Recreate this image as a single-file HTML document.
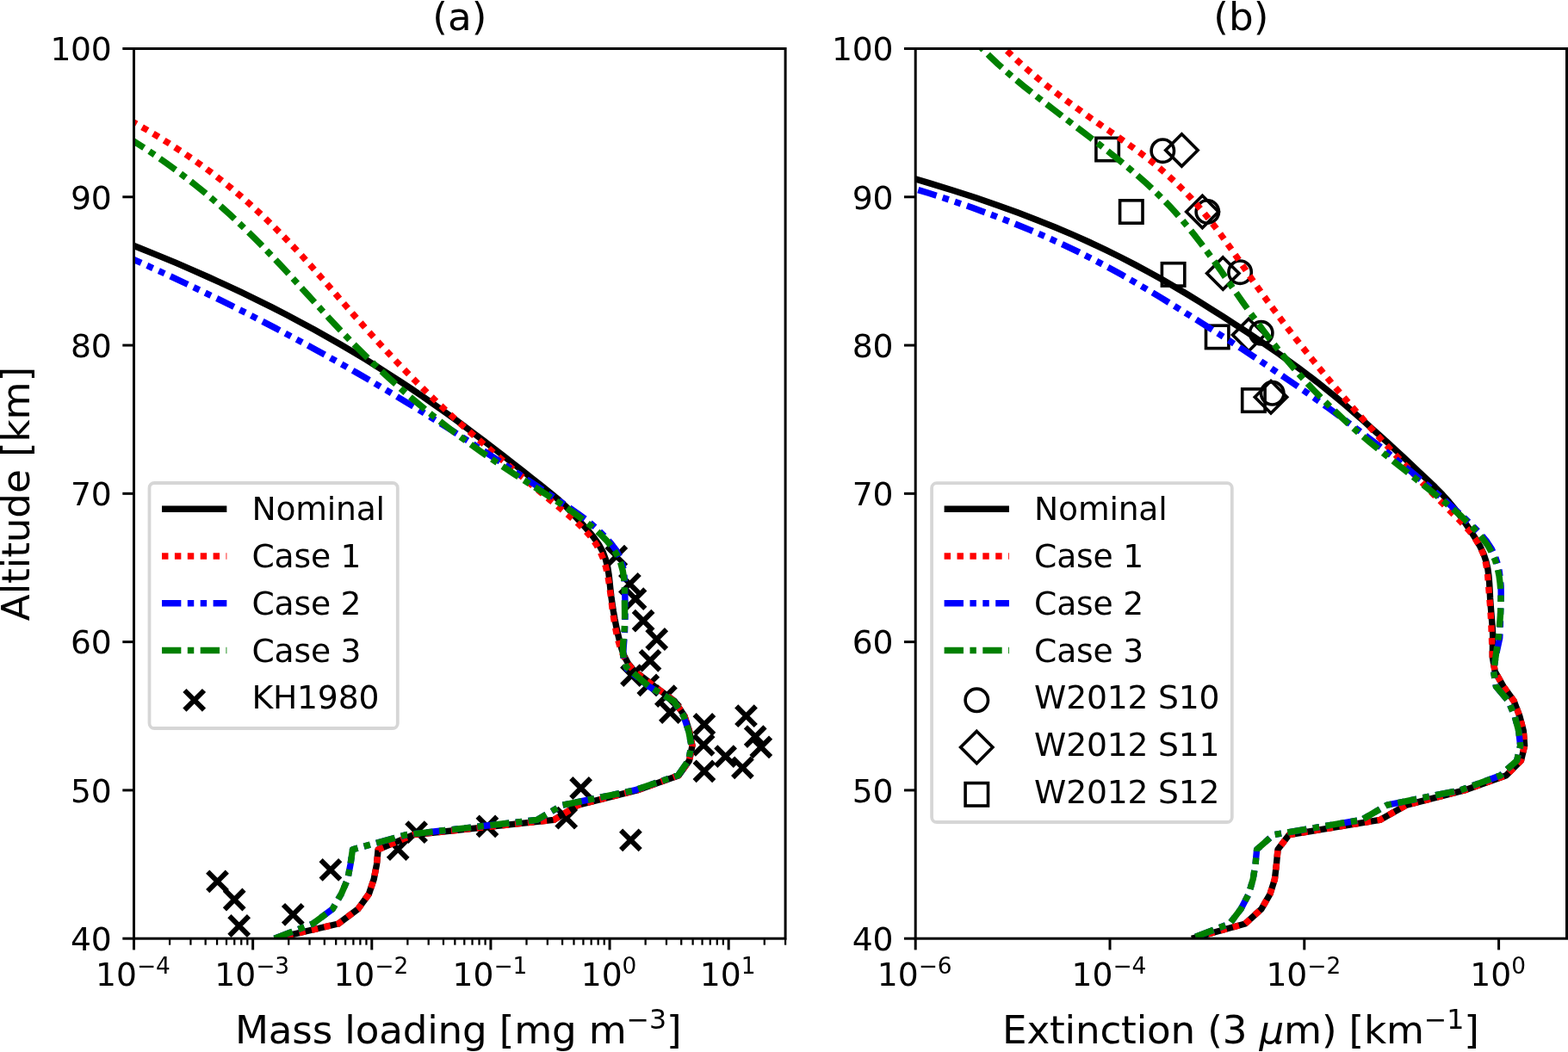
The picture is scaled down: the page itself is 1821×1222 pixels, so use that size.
<!DOCTYPE html>
<html lang="en"><head><meta charset="utf-8"><title>Altitude profiles</title>
<style>html,body{margin:0;padding:0;background:#fff;overflow:hidden}svg{display:block}text{font-family:"DejaVu Sans", "Liberation Sans", sans-serif;fill:#000}</style>
</head><body>
<svg width="1821" height="1222" viewBox="0 0 1821 1222">
<rect width="1821" height="1222" fill="#fff"/>
<defs>
<clipPath id="cl"><rect x="155.50" y="56.50" width="756.60" height="1033.70"/></clipPath>
<clipPath id="cr"><rect x="1063.20" y="56.50" width="756.30" height="1033.70"/></clipPath>
</defs>
<g clip-path="url(#cl)">
<path d="M704.5 634.8L727.1 657.4M704.5 657.4L727.1 634.8" stroke="#000" stroke-width="5.90" fill="none"/>
<path d="M720.1 667.0L742.7 689.6M720.1 689.6L742.7 667.0" stroke="#000" stroke-width="5.90" fill="none"/>
<path d="M726.7 684.3L749.3 706.9M726.7 706.9L749.3 684.3" stroke="#000" stroke-width="5.90" fill="none"/>
<path d="M735.8 709.8L758.4 732.4M735.8 732.4L758.4 709.8" stroke="#000" stroke-width="5.90" fill="none"/>
<path d="M751.4 731.2L774.0 753.8M751.4 753.8L774.0 731.2" stroke="#000" stroke-width="5.90" fill="none"/>
<path d="M743.7 756.0L766.3 778.6M743.7 778.6L766.3 756.0" stroke="#000" stroke-width="5.90" fill="none"/>
<path d="M722.2 773.3L744.8 795.9M722.2 795.9L744.8 773.3" stroke="#000" stroke-width="5.90" fill="none"/>
<path d="M741.5 784.6L764.1 807.2M741.5 807.2L764.1 784.6" stroke="#000" stroke-width="5.90" fill="none"/>
<path d="M762.1 797.3L784.7 819.9M762.1 819.9L784.7 797.3" stroke="#000" stroke-width="5.90" fill="none"/>
<path d="M767.1 816.2L789.7 838.8M767.1 838.8L789.7 816.2" stroke="#000" stroke-width="5.90" fill="none"/>
<path d="M806.6 830.2L829.2 852.8M806.6 852.8L829.2 830.2" stroke="#000" stroke-width="5.90" fill="none"/>
<path d="M855.2 820.4L877.8 843.0M855.2 843.0L877.8 820.4" stroke="#000" stroke-width="5.90" fill="none"/>
<path d="M805.8 854.1L828.4 876.7M805.8 876.7L828.4 854.1" stroke="#000" stroke-width="5.90" fill="none"/>
<path d="M865.9 844.3L888.5 866.9M865.9 866.9L888.5 844.3" stroke="#000" stroke-width="5.90" fill="none"/>
<path d="M872.5 856.6L895.1 879.2M872.5 879.2L895.1 856.6" stroke="#000" stroke-width="5.90" fill="none"/>
<path d="M831.3 867.3L853.9 889.9M831.3 889.9L853.9 867.3" stroke="#000" stroke-width="5.90" fill="none"/>
<path d="M851.1 880.5L873.7 903.1M851.1 903.1L873.7 880.5" stroke="#000" stroke-width="5.90" fill="none"/>
<path d="M806.6 884.6L829.2 907.2M806.6 907.2L829.2 884.6" stroke="#000" stroke-width="5.90" fill="none"/>
<path d="M663.3 904.2L685.9 926.8M663.3 926.8L685.9 904.2" stroke="#000" stroke-width="5.90" fill="none"/>
<path d="M646.4 938.9L669.0 961.5M646.4 961.5L669.0 938.9" stroke="#000" stroke-width="5.90" fill="none"/>
<path d="M721.1 964.6L743.7 987.2M721.1 987.2L743.7 964.6" stroke="#000" stroke-width="5.90" fill="none"/>
<path d="M554.6 948.6L577.2 971.2M554.6 971.2L577.2 948.6" stroke="#000" stroke-width="5.90" fill="none"/>
<path d="M472.3 955.4L494.9 978.0M472.3 978.0L494.9 955.4" stroke="#000" stroke-width="5.90" fill="none"/>
<path d="M450.9 975.2L473.5 997.8M450.9 997.8L473.5 975.2" stroke="#000" stroke-width="5.90" fill="none"/>
<path d="M372.6 999.1L395.2 1021.7M372.6 1021.7L395.2 999.1" stroke="#000" stroke-width="5.90" fill="none"/>
<path d="M329.0 1051.0L351.6 1073.6M329.0 1073.6L351.6 1051.0" stroke="#000" stroke-width="5.90" fill="none"/>
<path d="M241.2 1012.6L263.8 1035.2M241.2 1035.2L263.8 1012.6" stroke="#000" stroke-width="5.90" fill="none"/>
<path d="M260.9 1033.7L283.5 1056.3M260.9 1056.3L283.5 1033.7" stroke="#000" stroke-width="5.90" fill="none"/>
<path d="M266.4 1064.2L289.0 1086.8M266.4 1086.8L289.0 1064.2" stroke="#000" stroke-width="5.90" fill="none"/>
<path d="M140.0 279.4 L161.9 288.0 L183.2 296.6 L203.9 305.2 L223.9 313.9 L243.4 322.5 L262.3 331.1 L280.6 339.7 L298.4 348.3 L315.7 356.9 L332.5 365.5 L348.8 374.2 L364.7 382.8 L380.2 391.4 L395.2 400.0 L409.8 408.6 L424.1 417.2 L438.0 425.8 L451.5 434.5 L464.8 443.1 L477.7 451.7 L490.4 460.3 L502.8 468.9 L515.0 477.5 L527.0 486.1 L538.8 494.8 L550.3 503.4 L561.8 512.0 L573.1 520.6 L584.2 529.2 L595.3 537.8 L606.3 546.4 L617.2 555.1 L628.1 563.7 L638.9 572.3 L649.2 580.9 L658.4 589.5 L666.5 598.1 L674.4 606.7 L682.2 615.4 L689.4 624.0 L695.5 632.6 L700.2 641.2 L703.4 649.8 L705.6 658.4 L707.0 667.0 L708.0 675.7 L708.9 684.3 L709.9 692.9 L711.1 701.5 L712.4 710.1 L713.9 718.7 L715.6 727.3 L717.5 736.0 L719.6 744.6 L721.8 753.2 L724.8 761.8 L729.3 770.4 L736.3 779.0 L760.0 797.3 L783.5 814.5 L795.0 831.8 L800.5 849.0 L804.0 866.2 L800.5 883.5 L788.3 900.7 L740.0 917.9 L671.3 935.1 L643.3 952.4 L480.3 969.6 L439.1 986.8 L437.5 1004.1 L434.2 1021.3 L428.4 1038.5 L416.0 1055.7 L393.0 1073.0 L319.5 1090.2" fill="none" stroke="#000" stroke-width="7.40" stroke-linejoin="round"/>
<path d="M138.4 132.9 L154.2 141.5 L169.3 150.1 L183.8 158.7 L197.6 167.4 L210.8 176.0 L223.5 184.6 L235.7 193.2 L247.3 201.8 L258.4 210.4 L269.1 219.0 L279.4 227.7 L289.3 236.3 L298.8 244.9 L308.0 253.5 L316.9 262.1 L325.5 270.7 L333.9 279.3 L342.1 288.0 L350.1 296.6 L357.9 305.2 L365.6 313.8 L373.1 322.4 L380.7 331.0 L388.1 339.6 L395.6 348.3 L403.1 356.9 L410.6 365.5 L418.2 374.1 L425.9 382.7 L433.7 391.3 L441.6 399.9 L449.6 408.6 L457.7 417.2 L466.0 425.8 L474.4 434.4 L482.9 443.0 L491.6 451.6 L500.4 460.2 L509.5 468.9 L518.7 477.5 L528.0 486.1 L537.6 494.7 L547.3 503.3 L557.2 511.9 L567.2 520.5 L577.2 529.2 L587.3 537.8 L597.5 546.4 L607.7 555.0 L617.9 563.6 L628.3 572.2 L638.8 580.8 L649.4 589.5 L659.9 598.1 L669.9 606.7 L678.8 615.3 L686.4 623.9 L692.5 632.5 L697.2 641.1 L700.8 649.7 L703.5 658.4 L705.5 667.0 L707.0 675.6 L708.2 684.2 L709.4 692.8 L710.4 701.4 L711.5 710.0 L712.8 718.7 L714.2 727.3 L716.0 735.9 L718.0 744.5 L720.6 753.1 L723.9 761.7 L728.8 770.3 L735.8 779.0 L760.0 797.3 L783.5 814.5 L795.0 831.8 L800.5 849.0 L804.0 866.2 L800.5 883.5 L788.3 900.7 L740.0 917.9 L671.3 935.1 L643.3 952.4 L480.3 969.6 L439.1 986.8 L437.5 1004.1 L434.2 1021.3 L428.4 1038.5 L416.0 1055.7 L393.0 1073.0 L319.5 1090.2" fill="none" stroke="#f00" stroke-width="7.40" stroke-linejoin="round" stroke-dasharray="7.45 7.45" stroke-dashoffset="-0.70"/>
<path d="M140.7 295.0 L160.1 303.6 L179.1 312.2 L197.8 320.8 L216.2 329.5 L234.2 338.1 L251.9 346.7 L269.4 355.3 L286.5 363.9 L303.3 372.5 L319.9 381.1 L336.2 389.8 L352.2 398.4 L368.0 407.0 L383.6 415.6 L398.9 424.2 L413.9 432.8 L428.8 441.4 L443.4 450.1 L457.9 458.7 L472.1 467.3 L486.2 475.9 L500.1 484.5 L513.8 493.1 L527.4 501.7 L540.9 510.4 L554.3 519.0 L567.5 527.6 L580.7 536.2 L593.7 544.8 L606.7 553.4 L619.7 562.0 L632.6 570.7 L645.5 579.3 L658.4 587.9 L670.9 596.5 L682.5 605.1 L692.7 613.7 L701.5 622.3 L709.4 631.0 L715.9 639.6 L720.4 648.2 L723.2 656.8 L724.7 665.4 L725.4 674.0 L725.6 682.6 L725.8 691.3 L726.0 699.9 L726.0 708.5 L726.0 717.1 L725.8 725.7 L725.5 734.3 L724.9 742.9 L724.2 751.6 L723.7 760.2 L724.7 768.8 L728.5 777.4 L753.5 797.3 L782.5 814.5 L794.0 831.8 L799.7 849.0 L803.0 866.2 L799.5 883.5 L787.5 900.7 L737.0 917.9 L653.2 935.1 L623.6 952.4 L472.0 969.6 L409.5 986.8 L407.0 1004.1 L403.7 1021.3 L396.3 1038.5 L386.4 1055.7 L363.3 1073.0 L318.8 1090.2" fill="none" stroke="#00f" stroke-width="7.40" stroke-linejoin="round" stroke-dasharray="22.35 7.45 7.45 7.45 7.45 7.45" stroke-dashoffset="-3.20"/>
<path d="M139.9 154.5 L153.9 163.1 L167.3 171.7 L180.2 180.3 L192.5 189.0 L204.4 197.6 L215.8 206.2 L226.8 214.8 L237.4 223.4 L247.6 232.0 L257.5 240.6 L267.1 249.3 L276.3 257.9 L285.3 266.5 L294.1 275.1 L302.6 283.7 L311.0 292.3 L319.2 300.9 L327.3 309.6 L335.3 318.2 L343.2 326.8 L351.0 335.4 L358.9 344.0 L366.7 352.6 L374.6 361.2 L382.5 369.9 L390.5 378.5 L398.7 387.1 L406.9 395.7 L415.4 404.3 L424.0 412.9 L432.8 421.5 L441.9 430.2 L451.2 438.8 L460.8 447.4 L470.5 456.0 L480.6 464.6 L490.9 473.2 L501.5 481.8 L512.4 490.5 L523.6 499.1 L535.1 507.7 L546.9 516.3 L559.0 524.9 L571.5 533.5 L584.3 542.1 L597.5 550.8 L610.9 559.4 L624.5 568.0 L637.9 576.6 L651.1 585.2 L663.7 593.8 L675.6 602.4 L686.6 611.1 L696.4 619.7 L704.9 628.3 L711.9 636.9 L717.1 645.5 L720.8 654.1 L723.2 662.7 L724.6 671.3 L725.3 680.0 L725.4 688.6 L725.4 697.2 L725.5 705.8 L725.6 714.4 L725.5 723.0 L725.1 731.6 L724.3 740.3 L723.6 748.9 L723.4 757.5 L724.4 766.1 L727.3 774.7 L753.5 797.3 L782.5 814.5 L794.0 831.8 L799.7 849.0 L803.0 866.2 L799.5 883.5 L787.5 900.7 L737.0 917.9 L653.2 935.1 L623.6 952.4 L472.0 969.6 L409.5 986.8 L407.0 1004.1 L403.7 1021.3 L396.3 1038.5 L386.4 1055.7 L363.3 1073.0 L318.8 1090.2" fill="none" stroke="#008000" stroke-width="7.40" stroke-linejoin="round" stroke-dasharray="22.35 7.45 7.45 7.45" stroke-dashoffset="-9.90"/>
</g>
<g clip-path="url(#cr)">
<circle cx="1350.3" cy="175.2" r="13.20" stroke="#000" stroke-width="3.60" fill="none"/>
<circle cx="1402.3" cy="246.0" r="13.20" stroke="#000" stroke-width="3.60" fill="none"/>
<circle cx="1440.1" cy="316.2" r="13.20" stroke="#000" stroke-width="3.60" fill="none"/>
<circle cx="1464.7" cy="386.8" r="13.20" stroke="#000" stroke-width="3.60" fill="none"/>
<circle cx="1477.7" cy="456.8" r="13.20" stroke="#000" stroke-width="3.60" fill="none"/>
<path d="M1372.4 155.7L1391.1 174.4L1372.4 193.1L1353.7 174.4Z" stroke="#000" stroke-width="3.60" fill="none" stroke-linejoin="miter"/>
<path d="M1396.4 227.3L1415.1 246.0L1396.4 264.7L1377.7 246.0Z" stroke="#000" stroke-width="3.60" fill="none" stroke-linejoin="miter"/>
<path d="M1420.3 298.9L1439.0 317.6L1420.3 336.3L1401.6 317.6Z" stroke="#000" stroke-width="3.60" fill="none" stroke-linejoin="miter"/>
<path d="M1450.2 370.4L1468.9 389.1L1450.2 407.8L1431.5 389.1Z" stroke="#000" stroke-width="3.60" fill="none" stroke-linejoin="miter"/>
<path d="M1476.0 442.6L1494.7 461.3L1476.0 480.0L1457.3 461.3Z" stroke="#000" stroke-width="3.60" fill="none" stroke-linejoin="miter"/>
<rect x="1272.9" y="160.3" width="26.40" height="26.40" stroke="#000" stroke-width="3.60" fill="none"/>
<rect x="1300.6" y="232.8" width="26.40" height="26.40" stroke="#000" stroke-width="3.60" fill="none"/>
<rect x="1349.4" y="305.7" width="26.40" height="26.40" stroke="#000" stroke-width="3.60" fill="none"/>
<rect x="1400.5" y="378.2" width="26.40" height="26.40" stroke="#000" stroke-width="3.60" fill="none"/>
<rect x="1442.7" y="451.9" width="26.40" height="26.40" stroke="#000" stroke-width="3.60" fill="none"/>
<path d="M1049.4 204.0 L1078.9 212.6 L1106.9 221.2 L1133.4 229.8 L1158.5 238.5 L1182.2 247.1 L1204.7 255.7 L1226.0 264.3 L1246.3 272.9 L1265.5 281.5 L1283.8 290.1 L1301.3 298.8 L1318.0 307.4 L1334.0 316.0 L1349.4 324.6 L1364.3 333.2 L1378.7 341.8 L1392.8 350.4 L1406.6 359.1 L1420.2 367.7 L1433.6 376.3 L1446.8 384.9 L1459.7 393.5 L1472.4 402.1 L1484.9 410.7 L1497.0 419.4 L1508.8 428.0 L1520.3 436.6 L1531.4 445.2 L1542.2 453.8 L1552.7 462.4 L1562.9 471.0 L1572.9 479.7 L1582.8 488.3 L1592.4 496.9 L1602.0 505.5 L1611.4 514.1 L1620.8 522.7 L1630.1 531.3 L1639.3 540.0 L1648.5 548.6 L1657.6 557.2 L1666.6 565.8 L1675.1 574.4 L1682.9 583.0 L1690.0 591.6 L1696.5 600.3 L1702.6 608.9 L1708.4 617.5 L1713.9 626.1 L1718.9 634.7 L1723.0 643.3 L1725.8 651.9 L1727.8 660.6 L1729.0 669.2 L1729.7 677.8 L1730.2 686.4 L1730.6 695.0 L1731.2 703.6 L1731.9 712.2 L1732.6 720.8 L1733.3 729.5 L1733.7 738.1 L1733.3 762.9 L1736.2 780.1 L1746.0 797.3 L1758.3 814.5 L1764.8 831.8 L1769.3 849.0 L1770.6 866.2 L1766.5 883.5 L1749.3 900.7 L1700.8 917.9 L1633.5 935.1 L1602.6 952.4 L1497.2 969.6 L1484.0 986.8 L1482.4 1004.1 L1480.4 1021.3 L1475.0 1038.5 L1465.1 1055.7 L1446.1 1073.0 L1384.0 1090.2" fill="none" stroke="#000" stroke-width="7.40" stroke-linejoin="round"/>
<path d="M1151.1 40.0 L1159.1 48.6 L1167.6 57.2 L1176.6 65.8 L1186.0 74.5 L1195.9 83.1 L1206.1 91.7 L1216.8 100.3 L1227.9 108.9 L1239.4 117.5 L1251.2 126.1 L1263.3 134.8 L1275.7 143.4 L1288.2 152.0 L1300.6 160.6 L1312.7 169.2 L1324.5 177.8 L1335.8 186.4 L1346.4 195.1 L1356.4 203.7 L1365.7 212.3 L1374.4 220.9 L1382.7 229.5 L1390.4 238.1 L1397.8 246.7 L1404.8 255.4 L1411.5 264.0 L1417.9 272.6 L1424.1 281.2 L1430.2 289.8 L1436.2 298.4 L1442.1 307.0 L1448.0 315.7 L1453.9 324.3 L1459.9 332.9 L1466.1 341.5 L1472.3 350.1 L1478.6 358.7 L1485.0 367.3 L1491.5 376.0 L1498.0 384.6 L1504.7 393.2 L1511.5 401.8 L1518.3 410.4 L1525.2 419.0 L1532.2 427.6 L1539.3 436.3 L1546.5 444.9 L1553.8 453.5 L1561.2 462.1 L1568.6 470.7 L1576.1 479.3 L1583.8 487.9 L1591.5 496.6 L1599.3 505.2 L1607.1 513.8 L1615.1 522.4 L1623.1 531.0 L1631.3 539.6 L1639.5 548.2 L1647.8 556.9 L1656.2 565.5 L1664.6 574.1 L1673.2 582.7 L1681.8 591.3 L1690.5 599.9 L1699.0 608.5 L1706.7 617.1 L1713.3 625.8 L1718.5 634.4 L1722.4 643.0 L1725.0 651.6 L1726.7 660.2 L1727.7 668.8 L1728.4 677.4 L1729.1 686.1 L1729.8 694.7 L1730.5 703.3 L1731.1 711.9 L1731.6 720.5 L1732.0 729.1 L1732.3 737.7 L1733.3 762.9 L1736.2 780.1 L1746.0 797.3 L1758.3 814.5 L1764.8 831.8 L1769.3 849.0 L1770.6 866.2 L1766.5 883.5 L1749.3 900.7 L1700.8 917.9 L1633.5 935.1 L1602.6 952.4 L1497.2 969.6 L1484.0 986.8 L1482.4 1004.1 L1480.4 1021.3 L1475.0 1038.5 L1465.1 1055.7 L1446.1 1073.0 L1384.0 1090.2" fill="none" stroke="#f00" stroke-width="7.40" stroke-linejoin="round" stroke-dasharray="7.45 7.45" stroke-dashoffset="3.30"/>
<path d="M1050.3 215.7 L1078.4 224.3 L1104.9 232.9 L1129.9 241.5 L1153.5 250.2 L1175.8 258.8 L1196.8 267.4 L1216.7 276.0 L1235.6 284.6 L1253.5 293.2 L1270.6 301.8 L1286.9 310.5 L1302.6 319.1 L1317.7 327.7 L1332.4 336.3 L1346.8 344.9 L1360.8 353.5 L1374.7 362.1 L1388.5 370.8 L1402.1 379.4 L1415.6 388.0 L1429.0 396.6 L1442.3 405.2 L1455.4 413.8 L1468.3 422.4 L1481.1 431.1 L1493.8 439.7 L1506.3 448.3 L1518.7 456.9 L1530.9 465.5 L1542.9 474.1 L1554.8 482.7 L1566.5 491.4 L1578.0 500.0 L1589.4 508.6 L1600.6 517.2 L1611.6 525.8 L1622.4 534.4 L1633.0 543.0 L1643.4 551.7 L1653.7 560.3 L1663.8 568.9 L1673.7 577.5 L1683.4 586.1 L1693.0 594.7 L1702.3 603.3 L1711.4 612.0 L1719.7 620.6 L1726.8 629.2 L1732.4 637.8 L1736.4 646.4 L1739.3 655.0 L1741.2 663.6 L1742.4 672.3 L1743.1 680.9 L1743.2 689.5 L1743.1 698.1 L1742.8 706.7 L1742.5 715.3 L1742.4 723.9 L1742.2 732.5 L1741.7 741.2 L1737.0 762.9 L1734.6 780.1 L1737.4 797.3 L1751.8 814.5 L1759.1 831.8 L1763.7 849.0 L1765.7 866.2 L1761.6 883.5 L1742.7 900.7 L1695.9 917.9 L1610.9 935.1 L1581.2 952.4 L1479.0 969.6 L1459.6 986.8 L1458.0 1004.1 L1455.2 1021.3 L1450.2 1038.5 L1441.2 1055.7 L1428.0 1073.0 L1383.5 1090.2" fill="none" stroke="#00f" stroke-width="7.40" stroke-linejoin="round" stroke-dasharray="22.35 7.45 7.45 7.45 7.45 7.45" stroke-dashoffset="-16.70"/>
<path d="M1126.1 40.0 L1133.4 48.6 L1141.3 57.2 L1149.9 65.8 L1159.1 74.5 L1168.7 83.1 L1178.8 91.7 L1189.2 100.3 L1200.0 108.9 L1210.9 117.5 L1222.1 126.1 L1233.4 134.8 L1244.7 143.4 L1256.0 152.0 L1267.3 160.6 L1278.4 169.2 L1289.4 177.8 L1300.2 186.4 L1310.7 195.1 L1320.8 203.7 L1330.6 212.3 L1339.9 220.9 L1348.7 229.5 L1357.1 238.1 L1365.1 246.7 L1372.7 255.4 L1379.9 264.0 L1386.9 272.6 L1393.6 281.2 L1400.1 289.8 L1406.4 298.4 L1412.6 307.0 L1418.7 315.7 L1424.6 324.3 L1430.6 332.9 L1436.6 341.5 L1442.6 350.1 L1448.7 358.7 L1454.9 367.3 L1461.3 376.0 L1467.7 384.6 L1474.3 393.2 L1481.1 401.8 L1488.0 410.4 L1495.2 419.0 L1502.5 427.6 L1510.1 436.3 L1517.9 444.9 L1526.0 453.5 L1534.4 462.1 L1543.0 470.7 L1552.0 479.3 L1561.2 487.9 L1570.8 496.6 L1580.8 505.2 L1591.1 513.8 L1601.6 522.4 L1612.3 531.0 L1623.2 539.6 L1634.1 548.2 L1645.0 556.9 L1655.9 565.5 L1666.6 574.1 L1677.2 582.7 L1687.4 591.3 L1697.3 599.9 L1706.5 608.5 L1714.9 617.1 L1722.2 625.8 L1728.3 634.4 L1733.1 643.0 L1736.7 651.6 L1739.2 660.2 L1741.0 668.8 L1742.1 677.4 L1742.8 686.1 L1743.0 694.7 L1742.9 703.3 L1742.6 711.9 L1742.0 720.5 L1741.3 729.1 L1740.6 737.7 L1737.0 762.9 L1734.6 780.1 L1737.4 797.3 L1751.8 814.5 L1759.1 831.8 L1763.7 849.0 L1765.7 866.2 L1761.6 883.5 L1742.7 900.7 L1695.9 917.9 L1610.9 935.1 L1581.2 952.4 L1479.0 969.6 L1459.6 986.8 L1458.0 1004.1 L1455.2 1021.3 L1450.2 1038.5 L1441.2 1055.7 L1428.0 1073.0 L1383.5 1090.2" fill="none" stroke="#008000" stroke-width="7.40" stroke-linejoin="round" stroke-dasharray="22.35 7.45 7.45 7.45" stroke-dashoffset="13.20"/>
</g>
<path d="M155.50 1090.20H142.30" stroke="#000" stroke-width="3.00"/>
<text x="129.5" y="1104.0" font-size="37.67" text-anchor="end" letter-spacing="-0.25">40</text>
<path d="M155.50 917.92H142.30" stroke="#000" stroke-width="3.00"/>
<text x="129.5" y="931.7" font-size="37.67" text-anchor="end" letter-spacing="-0.25">50</text>
<path d="M155.50 745.63H142.30" stroke="#000" stroke-width="3.00"/>
<text x="129.5" y="759.4" font-size="37.67" text-anchor="end" letter-spacing="-0.25">60</text>
<path d="M155.50 573.35H142.30" stroke="#000" stroke-width="3.00"/>
<text x="129.5" y="587.1" font-size="37.67" text-anchor="end" letter-spacing="-0.25">70</text>
<path d="M155.50 401.07H142.30" stroke="#000" stroke-width="3.00"/>
<text x="129.5" y="414.9" font-size="37.67" text-anchor="end" letter-spacing="-0.25">80</text>
<path d="M155.50 228.78H142.30" stroke="#000" stroke-width="3.00"/>
<text x="129.5" y="242.6" font-size="37.67" text-anchor="end" letter-spacing="-0.25">90</text>
<path d="M155.50 56.50H142.30" stroke="#000" stroke-width="3.00"/>
<text x="129.5" y="70.3" font-size="37.67" text-anchor="end" letter-spacing="-0.25">100</text>
<path d="M155.50 1090.20V1103.40" stroke="#000" stroke-width="3.00"/>
<text x="111.1" y="1145.4" font-size="37.67">10</text>
<text x="159.0" y="1131.4" font-size="26.37">−4</text>
<path d="M293.64 1090.20V1103.40" stroke="#000" stroke-width="3.00"/>
<text x="249.2" y="1145.4" font-size="37.67">10</text>
<text x="297.2" y="1131.4" font-size="26.37">−3</text>
<path d="M431.78 1090.20V1103.40" stroke="#000" stroke-width="3.00"/>
<text x="387.4" y="1145.4" font-size="37.67">10</text>
<text x="435.3" y="1131.4" font-size="26.37">−2</text>
<path d="M569.91 1090.20V1103.40" stroke="#000" stroke-width="3.00"/>
<text x="525.5" y="1145.4" font-size="37.67">10</text>
<text x="573.4" y="1131.4" font-size="26.37">−1</text>
<path d="M708.05 1090.20V1103.40" stroke="#000" stroke-width="3.00"/>
<text x="674.7" y="1145.4" font-size="37.67">10</text>
<text x="722.6" y="1131.4" font-size="26.37">0</text>
<path d="M846.19 1090.20V1103.40" stroke="#000" stroke-width="3.00"/>
<text x="812.8" y="1145.4" font-size="37.67">10</text>
<text x="860.8" y="1131.4" font-size="26.37">1</text>
<path d="M197.08 1090.20V1097.70" stroke="#000" stroke-width="2.26"/>
<path d="M221.41 1090.20V1097.70" stroke="#000" stroke-width="2.26"/>
<path d="M238.67 1090.20V1097.70" stroke="#000" stroke-width="2.26"/>
<path d="M252.05 1090.20V1097.70" stroke="#000" stroke-width="2.26"/>
<path d="M262.99 1090.20V1097.70" stroke="#000" stroke-width="2.26"/>
<path d="M272.24 1090.20V1097.70" stroke="#000" stroke-width="2.26"/>
<path d="M280.25 1090.20V1097.70" stroke="#000" stroke-width="2.26"/>
<path d="M287.32 1090.20V1097.70" stroke="#000" stroke-width="2.26"/>
<path d="M335.22 1090.20V1097.70" stroke="#000" stroke-width="2.26"/>
<path d="M359.55 1090.20V1097.70" stroke="#000" stroke-width="2.26"/>
<path d="M376.81 1090.20V1097.70" stroke="#000" stroke-width="2.26"/>
<path d="M390.19 1090.20V1097.70" stroke="#000" stroke-width="2.26"/>
<path d="M401.13 1090.20V1097.70" stroke="#000" stroke-width="2.26"/>
<path d="M410.38 1090.20V1097.70" stroke="#000" stroke-width="2.26"/>
<path d="M418.39 1090.20V1097.70" stroke="#000" stroke-width="2.26"/>
<path d="M425.46 1090.20V1097.70" stroke="#000" stroke-width="2.26"/>
<path d="M473.36 1090.20V1097.70" stroke="#000" stroke-width="2.26"/>
<path d="M497.69 1090.20V1097.70" stroke="#000" stroke-width="2.26"/>
<path d="M514.94 1090.20V1097.70" stroke="#000" stroke-width="2.26"/>
<path d="M528.33 1090.20V1097.70" stroke="#000" stroke-width="2.26"/>
<path d="M539.27 1090.20V1097.70" stroke="#000" stroke-width="2.26"/>
<path d="M548.52 1090.20V1097.70" stroke="#000" stroke-width="2.26"/>
<path d="M556.53 1090.20V1097.70" stroke="#000" stroke-width="2.26"/>
<path d="M563.59 1090.20V1097.70" stroke="#000" stroke-width="2.26"/>
<path d="M611.50 1090.20V1097.70" stroke="#000" stroke-width="2.26"/>
<path d="M635.82 1090.20V1097.70" stroke="#000" stroke-width="2.26"/>
<path d="M653.08 1090.20V1097.70" stroke="#000" stroke-width="2.26"/>
<path d="M666.47 1090.20V1097.70" stroke="#000" stroke-width="2.26"/>
<path d="M677.41 1090.20V1097.70" stroke="#000" stroke-width="2.26"/>
<path d="M686.66 1090.20V1097.70" stroke="#000" stroke-width="2.26"/>
<path d="M694.67 1090.20V1097.70" stroke="#000" stroke-width="2.26"/>
<path d="M701.73 1090.20V1097.70" stroke="#000" stroke-width="2.26"/>
<path d="M749.64 1090.20V1097.70" stroke="#000" stroke-width="2.26"/>
<path d="M773.96 1090.20V1097.70" stroke="#000" stroke-width="2.26"/>
<path d="M791.22 1090.20V1097.70" stroke="#000" stroke-width="2.26"/>
<path d="M804.61 1090.20V1097.70" stroke="#000" stroke-width="2.26"/>
<path d="M815.55 1090.20V1097.70" stroke="#000" stroke-width="2.26"/>
<path d="M824.79 1090.20V1097.70" stroke="#000" stroke-width="2.26"/>
<path d="M832.80 1090.20V1097.70" stroke="#000" stroke-width="2.26"/>
<path d="M839.87 1090.20V1097.70" stroke="#000" stroke-width="2.26"/>
<path d="M887.78 1090.20V1097.70" stroke="#000" stroke-width="2.26"/>
<path d="M912.10 1090.20V1097.70" stroke="#000" stroke-width="2.26"/>
<rect x="155.50" y="56.50" width="756.60" height="1033.70" fill="none" stroke="#000" stroke-width="3.00"/>
<path d="M1063.20 1090.20H1050.00" stroke="#000" stroke-width="3.00"/>
<text x="1037.2" y="1104.0" font-size="37.67" text-anchor="end" letter-spacing="-0.25">40</text>
<path d="M1063.20 917.92H1050.00" stroke="#000" stroke-width="3.00"/>
<text x="1037.2" y="931.7" font-size="37.67" text-anchor="end" letter-spacing="-0.25">50</text>
<path d="M1063.20 745.63H1050.00" stroke="#000" stroke-width="3.00"/>
<text x="1037.2" y="759.4" font-size="37.67" text-anchor="end" letter-spacing="-0.25">60</text>
<path d="M1063.20 573.35H1050.00" stroke="#000" stroke-width="3.00"/>
<text x="1037.2" y="587.1" font-size="37.67" text-anchor="end" letter-spacing="-0.25">70</text>
<path d="M1063.20 401.07H1050.00" stroke="#000" stroke-width="3.00"/>
<text x="1037.2" y="414.9" font-size="37.67" text-anchor="end" letter-spacing="-0.25">80</text>
<path d="M1063.20 228.78H1050.00" stroke="#000" stroke-width="3.00"/>
<text x="1037.2" y="242.6" font-size="37.67" text-anchor="end" letter-spacing="-0.25">90</text>
<path d="M1063.20 56.50H1050.00" stroke="#000" stroke-width="3.00"/>
<text x="1037.2" y="70.3" font-size="37.67" text-anchor="end" letter-spacing="-0.25">100</text>
<path d="M1063.20 1090.20V1103.40" stroke="#000" stroke-width="3.00"/>
<text x="1018.8" y="1145.4" font-size="37.67">10</text>
<text x="1066.7" y="1131.4" font-size="26.37">−6</text>
<path d="M1289.00 1090.20V1103.40" stroke="#000" stroke-width="3.00"/>
<text x="1244.6" y="1145.4" font-size="37.67">10</text>
<text x="1292.5" y="1131.4" font-size="26.37">−4</text>
<path d="M1514.79 1090.20V1103.40" stroke="#000" stroke-width="3.00"/>
<text x="1470.4" y="1145.4" font-size="37.67">10</text>
<text x="1518.3" y="1131.4" font-size="26.37">−2</text>
<path d="M1740.59 1090.20V1103.40" stroke="#000" stroke-width="3.00"/>
<text x="1707.2" y="1145.4" font-size="37.67">10</text>
<text x="1755.2" y="1131.4" font-size="26.37">0</text>
<rect x="1063.20" y="56.50" width="756.30" height="1033.70" fill="none" stroke="#000" stroke-width="3.00"/>
<text x="533.8" y="34.5" font-size="45.20" text-anchor="middle">(a)</text>
<text x="1441.3" y="34.5" font-size="45.20" text-anchor="middle">(b)</text>
<text transform="translate(34.4 573.6) rotate(-90)" font-size="45.20" text-anchor="middle" letter-spacing="-0.10">Altitude [km]</text>
<text letter-spacing="-0.17" x="273.0" y="1212.3" font-size="45.20">Mass loading [mg m<tspan font-size="31.64" dy="-17.2">−3</tspan><tspan dy="17.2">]</tspan></text>
<text letter-spacing="-0.17" x="1164.1" y="1212.3" font-size="45.20">Extinction (3 <tspan font-style="italic">μ</tspan>m) [km<tspan font-size="31.64" dy="-17.2">−1</tspan><tspan dy="17.2">]</tspan></text>
<rect x="173.50" y="561.00" width="288.30" height="285.00" rx="5.8" ry="5.8" fill="#fff" fill-opacity="0.8" stroke="#ccc" stroke-opacity="0.8" stroke-width="3.77"/>
<path d="M188.00 591.20H263.34" stroke="#000" stroke-width="7.40"/>
<text letter-spacing="-0.20" x="292.5" y="604.2" font-size="37.67">Nominal</text>
<path d="M188.00 645.95H263.34" stroke="#f00" stroke-width="7.40" stroke-dasharray="7.45 7.45"/>
<text letter-spacing="-0.20" x="292.5" y="659.0" font-size="37.67">Case 1</text>
<path d="M188.00 700.70H263.34" stroke="#00f" stroke-width="7.40" stroke-dasharray="22.35 7.45 7.45 7.45 7.45 7.45"/>
<text letter-spacing="-0.20" x="292.5" y="713.7" font-size="37.67">Case 2</text>
<path d="M188.00 755.45H263.34" stroke="#008000" stroke-width="7.40" stroke-dasharray="22.35 7.45 7.45 7.45"/>
<text letter-spacing="-0.20" x="292.5" y="768.5" font-size="37.67">Case 3</text>
<path d="M214.4 802.0L237.0 824.6M214.4 824.6L237.0 802.0" stroke="#000" stroke-width="5.90" fill="none"/>
<text letter-spacing="-0.20" x="292.5" y="823.2" font-size="37.67">KH1980</text>
<rect x="1082.10" y="561.10" width="348.70" height="393.90" rx="5.8" ry="5.8" fill="#fff" fill-opacity="0.8" stroke="#ccc" stroke-opacity="0.8" stroke-width="3.77"/>
<path d="M1096.60 591.20H1171.94" stroke="#000" stroke-width="7.40"/>
<text letter-spacing="-0.20" x="1201.1" y="604.2" font-size="37.67">Nominal</text>
<path d="M1096.60 645.95H1171.94" stroke="#f00" stroke-width="7.40" stroke-dasharray="7.45 7.45"/>
<text letter-spacing="-0.20" x="1201.1" y="659.0" font-size="37.67">Case 1</text>
<path d="M1096.60 700.70H1171.94" stroke="#00f" stroke-width="7.40" stroke-dasharray="22.35 7.45 7.45 7.45 7.45 7.45"/>
<text letter-spacing="-0.20" x="1201.1" y="713.7" font-size="37.67">Case 2</text>
<path d="M1096.60 755.45H1171.94" stroke="#008000" stroke-width="7.40" stroke-dasharray="22.35 7.45 7.45 7.45"/>
<text letter-spacing="-0.20" x="1201.1" y="768.5" font-size="37.67">Case 3</text>
<circle cx="1134.3" cy="813.3" r="13.20" stroke="#000" stroke-width="3.60" fill="none"/>
<text letter-spacing="-0.20" x="1201.1" y="823.2" font-size="37.67">W2012 S10</text>
<path d="M1134.3 849.4L1152.9 868.1L1134.3 886.7L1115.6 868.1Z" stroke="#000" stroke-width="3.60" fill="none" stroke-linejoin="miter"/>
<text letter-spacing="-0.20" x="1201.1" y="878.0" font-size="37.67">W2012 S11</text>
<rect x="1121.1" y="909.6" width="26.40" height="26.40" stroke="#000" stroke-width="3.60" fill="none"/>
<text letter-spacing="-0.20" x="1201.1" y="932.7" font-size="37.67">W2012 S12</text>
</svg></body></html>
